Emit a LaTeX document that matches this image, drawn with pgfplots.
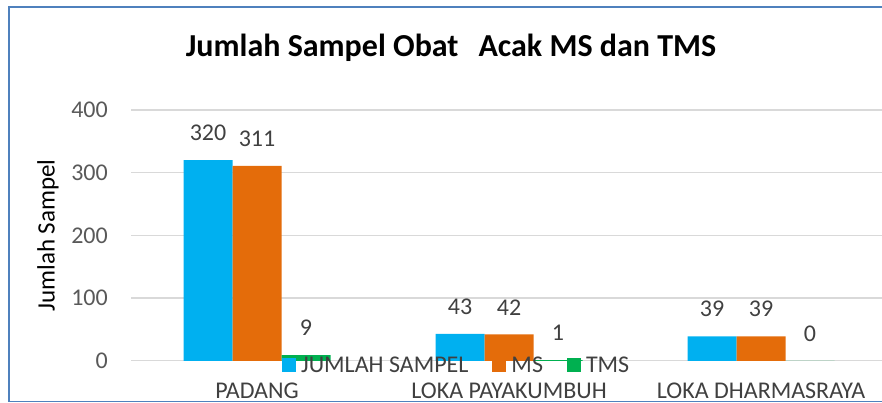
\documentclass[border=0pt]{standalone}
\usepackage{fontspec}
\setmainfont{Carlito}
\usepackage{pgfplots}
\pgfplotsset{compat=1.18}
\definecolor{cJ}{HTML}{00B0F0}
\definecolor{cM}{HTML}{E46C0A}
\definecolor{cT}{HTML}{00B050}
\definecolor{gridc}{HTML}{D9D9D9}
\definecolor{tickc}{HTML}{595959}
\definecolor{labc}{HTML}{404040}
\definecolor{borderc}{HTML}{4F81BD}
\newcommand\fs{\fontsize{24}{28}\selectfont}
\begin{document}
\begin{tikzpicture}[x=1pt,y=1pt]
\useasboundingbox (0,0) rectangle (882,403);
\draw[borderc, line width=1.2pt] (884,1.5) -- (9,1.5) -- (9,396) -- (884,396);
\node[anchor=base, font=\fontsize{32}{36}\selectfont\bfseries] at (451,346) {Jumlah Sampel Obat\hspace{20pt}Acak MS dan TMS};
\begin{axis}[
  at={(131pt,42.2pt)}, anchor=south west,
  scale only axis, width=751pt, height=250.8pt,
  ybar=0pt, bar width=49pt,
  xmin=-0.5, xmax=2.48, ymin=0, ymax=400,
  ytick={0,100,200,300,400},
  xtick={0,1,2},
  xticklabels={PADANG, LOKA PAYAKUMBUH, LOKA DHARMASRAYA},
  axis line style={draw=none},
  major tick length=0pt,
  ymajorgrids, grid style={gridc, line width=1.2pt},
  /pgf/number format/assume math mode=true,
  yticklabel style={font=\fs, text=tickc, anchor=east, inner sep=0pt, xshift=-23pt},
  xticklabel style={font=\fs, text=labc, anchor=north, inner sep=0pt, yshift=-22pt},
  ylabel={Jumlah Sampel},
  ylabel style={font=\fontsize{25}{29}\selectfont, text=black, at={(axis description cs:-0.1105,0.5)}, anchor=center},
  nodes near coords,
  every node near coord/.append style={font=\fs, text=labc, anchor=south, inner sep=0pt, yshift=19pt},
  legend columns=3,
  legend style={at={(axis description cs:0.433,-0.017)}, anchor=center, draw=none, fill=none,
    font=\fs, text=labc, inner sep=0pt,
    nodes={inner sep=1pt},
    /tikz/every odd column/.append style={column sep=4pt},
    /tikz/every even column/.append style={column sep=23pt}},
  legend image code/.code={\fill[#1] (0pt,-7pt) rectangle (14pt,7pt);},
]
\addplot[fill=cJ, draw=none] coordinates {(0,320) (1,43) (2,39)};
\addplot[fill=cM, draw=none] coordinates {(0,311) (1,42) (2,39)};
\addplot[fill=cT, draw=none] coordinates {(0,9) (1,1) (2,0)};
\legend{JUMLAH SAMPEL, MS, TMS}
\end{axis}
\end{tikzpicture}
\end{document}
